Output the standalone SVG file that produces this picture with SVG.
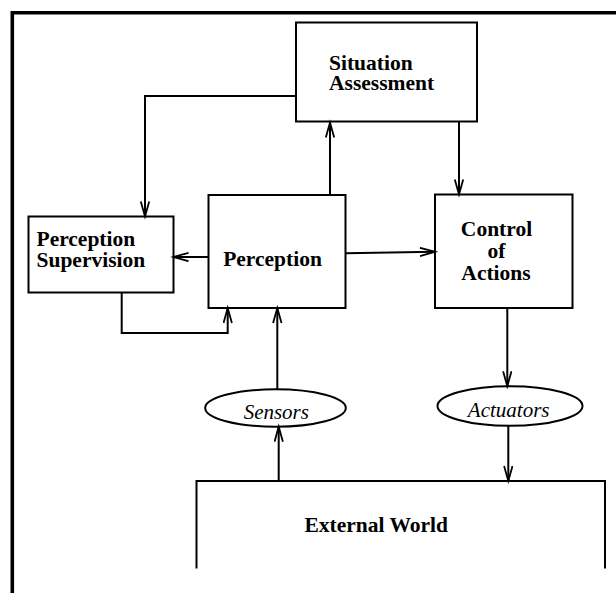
<svg xmlns="http://www.w3.org/2000/svg" width="616" height="593" viewBox="0 0 616 593">
<defs>
<style>
.box{fill:#fff;stroke:#000;stroke-width:2}
.lbl{font-family:"Liberation Serif","Times New Roman",serif;font-weight:bold;font-size:21.5px;fill:#000}
.ital{font-family:"Liberation Serif","Times New Roman",serif;font-style:italic;font-size:21px;fill:#000}
.con{fill:none;stroke:#000;stroke-width:2}
</style>
<marker id="arr" markerUnits="userSpaceOnUse" markerWidth="20" markerHeight="12" refX="16" refY="5" orient="auto">
<path d="M1,0.8 L16,5 L1,9.2" fill="none" stroke="#000" stroke-width="1.8"/>
</marker>
</defs>
<rect width="616" height="593" fill="#fff"/>
<g id="frame">
<path d="M12.3,593 L12.3,12.8 L616,12.8" fill="none" stroke="#000" stroke-width="3.6"/>
</g>
<g id="situation-assessment">
<rect class="box" x="296" y="22.5" width="181" height="99"/>
<text class="lbl" x="329" y="69.5">Situation</text>
<text class="lbl" x="329" y="90">Assessment</text>
</g>
<g id="perception-supervision">
<rect class="box" x="28.5" y="216.5" width="145" height="76"/>
<text class="lbl" x="36.5" y="245.5">Perception</text>
<text class="lbl" x="36.5" y="267">Supervision</text>
</g>
<g id="perception">
<rect class="box" x="208.5" y="195" width="137" height="113"/>
<text class="lbl" x="272.5" y="266" text-anchor="middle">Perception</text>
</g>
<g id="control-of-actions">
<rect class="box" x="435" y="194.5" width="137.5" height="113.5"/>
<text class="lbl" x="496.5" y="235.5" text-anchor="middle">Control</text>
<text class="lbl" x="496.5" y="258" text-anchor="middle">of</text>
<text class="lbl" x="496" y="280" text-anchor="middle">Actions</text>
</g>
<g id="sensors">
<ellipse cx="275.5" cy="408" rx="70.3" ry="18.7" fill="#fff" stroke="#000" stroke-width="2"/>
<text class="ital" x="276.3" y="419" text-anchor="middle">Sensors</text>
</g>
<g id="actuators">
<ellipse cx="510" cy="406" rx="72.5" ry="19.8" fill="#fff" stroke="#000" stroke-width="2"/>
<text class="ital" x="508.7" y="417" text-anchor="middle">Actuators</text>
</g>
<g id="external-world">
<path d="M196.5,568.5 L196.5,481 L605,481 L605,568.5" fill="none" stroke="#000" stroke-width="2"/>
<text class="lbl" x="376.3" y="531.7" text-anchor="middle">External World</text>
</g>
<g id="connectors">
<path class="con" d="M330,195 L330,122.5" marker-end="url(#arr)"/>
<path class="con" d="M459,121.5 L459,194.5" marker-end="url(#arr)"/>
<path class="con" d="M296,96 L145,96 L145,216.5" marker-end="url(#arr)"/>
<path class="con" d="M208.5,257 L173.5,257" marker-end="url(#arr)"/>
<path class="con" d="M345.5,253.3 L435,251.7" marker-end="url(#arr)"/>
<path class="con" d="M121.7,292.5 L121.7,333 L227.7,333 L227.7,308" marker-end="url(#arr)"/>
<path class="con" d="M277.3,389.3 L277.3,308" marker-end="url(#arr)"/>
<path class="con" d="M278.7,482 L278.7,426.7" marker-end="url(#arr)"/>
<path class="con" d="M507.3,308 L507.3,386.2" marker-end="url(#arr)"/>
<path class="con" d="M508.3,425.8 L508.3,481" marker-end="url(#arr)"/>
</g>
</svg>
